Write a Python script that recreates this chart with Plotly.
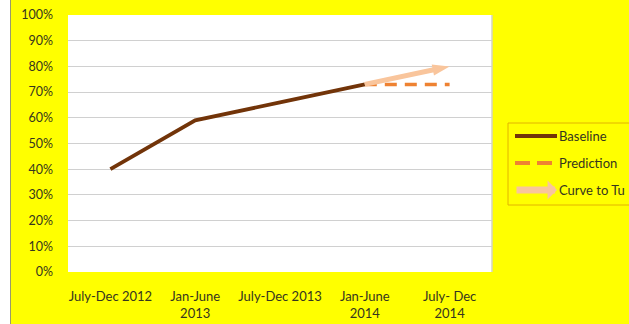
import plotly.graph_objects as go

# Reporting periods and series values
periods = ["July-Dec 2012", "Jan-June<br>2013", "July-Dec 2013", "Jan-June<br>2014", "July- Dec<br>2014"]
baseline = [0.40, 0.59, 0.66, 0.73, None]
prediction = [None, None, None, 0.73, 0.73]
curve = [None, None, None, 0.73, 0.80]
y_ticks = [i / 10 for i in range(11)]

legend_names = ["Baseline", "Prediction", "Curve to Tu"]

BROWN = "#723409"
ORANGE = "#EE8232"
PEACH = "#F9C59C"
YELLOW = "#FFFF00"
TEXT = "#35351F"
FONT = "Lato"

W, H = 629, 324
L, R, T, B = 68, 137, 15, 52
PW, PH = W - L - R, H - T - B

def px_x(px):
    return (px - L) / PW

def px_y(py):
    return (H - B - py) / PH

fig = go.Figure()

fig.add_trace(go.Scatter(
    x=periods, y=prediction, mode="lines", name=legend_names[1],
    line=dict(color=ORANGE, width=3.5, dash="12px,8px"),
    connectgaps=False, showlegend=False,
))
fig.add_trace(go.Scatter(
    x=periods, y=baseline, mode="lines", name=legend_names[0],
    line=dict(color=BROWN, width=3.8),
    showlegend=False,
))
fig.add_trace(go.Scatter(
    x=periods, y=curve, mode="lines+markers", name=legend_names[2],
    line=dict(color=PEACH, width=5),
    marker=dict(symbol="arrow", size=18, angleref="previous", color=PEACH),
    showlegend=False,
))

# Legend box drawn by hand so it can run off the right edge
shapes = [
    # white strip and divider on the left edge of the page
    dict(type="rect", xref="paper", yref="paper", x0=px_x(-2), x1=px_x(10.5),
         y0=px_y(H + 2), y1=px_y(-2), fillcolor="white", line=dict(width=0), layer="below"),
    dict(type="line", xref="paper", yref="paper", x0=px_x(10.5), x1=px_x(10.5),
         y0=px_y(H + 2), y1=px_y(-2), line=dict(color="#9A9A6A", width=1)),
    # right edge of the plot area
    dict(type="line", xref="paper", yref="paper", x0=1, x1=1, y0=0, y1=1,
         line=dict(color="#D4D4C0", width=1.5)),
    # legend frame
    dict(type="rect", xref="paper", yref="paper", x0=px_x(508), x1=px_x(640),
         y0=px_y(205), y1=px_y(123), line=dict(color="#E2B400", width=1), fillcolor=YELLOW),
    dict(type="line", xref="paper", yref="paper", x0=px_x(515), x1=px_x(557),
         y0=px_y(136), y1=px_y(136), line=dict(color=BROWN, width=4)),
    dict(type="line", xref="paper", yref="paper", x0=px_x(515), x1=px_x(553),
         y0=px_y(163), y1=px_y(163), line=dict(color=ORANGE, width=4, dash="15px,7px")),
]

annotations = []
for name, py in zip(legend_names, [136, 163, 190]):
    annotations.append(dict(
        xref="paper", yref="paper", x=px_x(557), y=px_y(py), xanchor="left", yanchor="middle",
        text=name, showarrow=False, font=dict(family=FONT, size=13, color=TEXT),
    ))
annotations.append(dict(
    xref="paper", yref="paper", x=px_x(557), y=px_y(190), ax=-42, ay=0,
    axref="pixel", ayref="pixel", text="", showarrow=True,
    arrowhead=1, arrowsize=0.45, arrowwidth=7, arrowcolor=PEACH,
))

fig.update_layout(
    width=W, height=H,
    margin=dict(l=L, r=R, t=T, b=B, autoexpand=False),
    paper_bgcolor=YELLOW, plot_bgcolor="white",
    font=dict(family=FONT, size=13, color=TEXT),
    shapes=shapes, annotations=annotations,
    showlegend=False,
)
fig.update_xaxes(
    type="category", range=[-0.5, 4.5], showgrid=False, zeroline=False,
    ticks="", ticklabelstandoff=15, tickfont=dict(family=FONT, size=13, color=TEXT),
)
fig.update_yaxes(
    range=[0, 1], tickvals=y_ticks, tickformat=".0%", showgrid=True,
    gridcolor="#D0D0D0", gridwidth=1, zeroline=False, ticks="",
    ticklabelstandoff=14, tickfont=dict(family=FONT, size=12.5, color=TEXT),
)

fig.write_html("out.html")
